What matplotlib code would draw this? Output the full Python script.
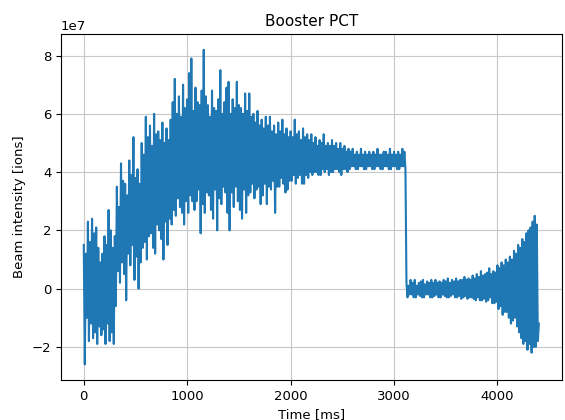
import numpy as np
import matplotlib
matplotlib.use("Agg")
import matplotlib.pyplot as plt

# beam intensity, units of 1e7 ions, one value every 10 ms
# (alternating peaks / troughs of the noisy signal)
sample_ms = 10
intensity = [
    # 0 - 190 ms
    1.5, -2.6, 1.2, -1.0, 2.3, -1.8, 1.6, -1.2, 2.4, -1.7,
    1.9, -1.5, 2.1, -1.9, 1.4, -1.3, 0.9, -1.6, 1.2, -1.4,
    # 200 - 390 ms
    1.8, -1.9, 1.5, -1.2, 2.7, -1.8, 2.0, -1.5, 1.4, -1.9,
    1.8, -0.6, 3.5, 0.6, 2.8, 0.2, 4.3, 0.9, 3.7, 0.5,
    # 400 - 590 ms
    3.6, -0.4, 3.2, 1.2, 4.4, 0.8, 3.9, 1.5, 5.2, 0.3,
    3.8, 1.1, 4.1, 0.0, 3.6, 0.9, 5.0, 1.4, 4.6, 1.6,
    # 600 - 790 ms
    5.9, 1.0, 5.2, 1.8, 5.6, 1.9, 4.9, 1.4, 6.0, 1.2,
    5.3, 2.2, 5.4, 2.0, 5.1, 1.7, 5.7, 1.0, 5.0, 2.3,
    # 800 - 990 ms
    5.5, 1.5, 5.1, 2.4, 5.8, 2.2, 6.4, 2.7, 7.2, 2.5,
    6.0, 3.1, 6.6, 2.8, 5.9, 2.6, 7.0, 2.2, 6.2, 3.0,
    # 1000 - 1190 ms
    6.5, 2.6, 7.4, 3.2, 7.9, 3.0, 6.1, 2.7, 6.9, 3.0,
    6.4, 3.4, 6.3, 1.9, 6.8, 2.9, 8.2, 2.6, 6.6, 3.3,
    # 1200 - 1390 ms
    6.3, 3.2, 5.9, 2.7, 6.8, 2.4, 6.2, 3.4, 6.1, 2.0,
    6.5, 3.1, 7.5, 2.9, 6.0, 3.5, 6.4, 3.3, 6.9, 2.6,
    # 1400 - 1590 ms
    7.1, 2.0, 6.0, 3.3, 6.5, 2.8, 6.2, 3.5, 7.1, 3.0,
    6.3, 2.7, 6.2, 2.4, 6.0, 3.4, 6.7, 2.6, 6.1, 3.2,
    # 1600 - 1790 ms
    6.7, 3.3, 5.9, 3.6, 6.0, 3.1, 5.7, 3.4, 6.1, 3.5,
    5.6, 2.9, 5.8, 3.2, 5.5, 3.6, 5.9, 2.9, 5.6, 3.5,
    # 1800 - 1990 ms
    5.9, 3.4, 5.4, 3.7, 5.6, 2.6, 5.3, 3.5, 5.7, 3.5,
    5.4, 3.8, 5.8, 3.6, 5.3, 3.3, 5.5, 3.4, 5.2, 3.7,
    # 2000 - 2190 ms
    5.4, 3.7, 5.2, 3.9, 5.8, 3.6, 5.3, 3.8, 5.4, 3.9,
    5.1, 3.6, 5.5, 3.6, 5.2, 3.9, 5.3, 3.8, 5.1, 4.0,
    # 2200 - 2390 ms
    5.3, 3.9, 5.0, 4.0, 5.2, 4.0, 4.9, 3.9, 5.1, 3.9,
    5.0, 4.1, 5.3, 4.0, 4.9, 4.1, 5.0, 3.9, 4.9, 4.0,
    # 2400 - 2590 ms
    5.1, 4.0, 4.9, 4.1, 5.0, 4.1, 4.8, 4.0, 5.0, 3.9,
    4.8, 4.1, 4.9, 4.1, 4.7, 4.0, 4.8, 4.1, 4.7, 4.2,
    # 2600 - 2790 ms
    4.8, 4.2, 4.6, 4.1, 4.7, 4.1, 4.6, 4.2, 4.8, 4.2,
    4.6, 4.1, 4.7, 4.1, 4.6, 4.2, 4.7, 4.2, 4.6, 4.1,
    # 2800 - 2990 ms
    4.7, 4.1, 4.6, 4.2, 4.8, 4.2, 4.6, 4.1, 4.6, 4.1,
    4.7, 4.2, 4.7, 4.2, 4.6, 4.1, 4.8, 4.1, 4.6, 4.2,
    # 3000 - 3190 ms (beam dump at ~3110 ms)
    4.7, 4.2, 4.6, 4.1, 4.7, 4.1, 4.6, 4.2, 4.8, 4.2,
    4.7, 4.1, 0.2, -0.3, 0.1, -0.2, 0.3, -0.2, 0.2, -0.3,
    # 3200 - 3390 ms
    0.3, -0.3, 0.1, -0.2, 0.2, -0.25, 0.25, -0.3, 0.3, -0.3,
    0.15, -0.2, 0.25, -0.2, 0.2, -0.3, 0.3, -0.3, 0.2, -0.25,
    # 3400 - 3590 ms
    0.3, -0.2, 0.2, -0.3, 0.25, -0.3, 0.2, -0.2, 0.3, -0.25,
    0.25, -0.3, 0.35, -0.3, 0.2, -0.25, 0.3, -0.2, 0.25, -0.3,
    # 3600 - 3790 ms
    0.35, -0.3, 0.25, -0.25, 0.3, -0.35, 0.3, -0.3, 0.4, -0.25,
    0.3, -0.35, 0.35, -0.3, 0.3, -0.3, 0.45, -0.35, 0.35, -0.4,
    # 3800 - 3990 ms
    0.5, -0.3, 0.4, -0.4, 0.6, -0.4, 0.45, -0.35, 0.5, -0.45,
    0.55, -0.4, 0.7, -0.3, 0.5, -0.5, 0.6, -0.5, 0.55, -0.45,
    # 4000 - 4190 ms
    0.8, -0.7, 0.7, -0.6, 0.9, -0.9, 0.8, -0.8, 1.0, -0.8,
    0.9, -1.0, 1.1, -1.2, 1.0, -1.1, 1.3, -1.0, 1.2, -1.3,
    # 4200 - 4390 ms
    1.5, -1.5, 1.4, -1.7, 1.7, -1.9, 1.6, -1.8, 1.9, -2.1,
    2.0, -1.9, 2.1, -2.2, 2.3, -2.0, 2.5, -2.0, 2.2, -1.8,
    # 4400 ms
    -1.2,
]

time_ms = np.arange(len(intensity)) * sample_ms
beam = np.array(intensity) * 1e7

fig = plt.figure(figsize=(5.65, 4.2), dpi=100)
ax = fig.add_subplot(111)
fig.subplots_adjust(left=0.108, right=0.994, bottom=0.095, top=0.919)

ax.plot(time_ms, beam, color="#1f77b4", lw=1.5)
ax.grid(True, color="#c8c8c8")

ax.set_title("Booster PCT", fontsize=11)
ax.set_xlabel("Time [ms]", fontsize=9.5)
ax.set_ylabel("Beam intensity [ions]", fontsize=9.5)
ax.tick_params(labelsize=9.5)
ax.yaxis.get_offset_text().set_fontsize(9.5)

plt.savefig("out.png", dpi=100)
